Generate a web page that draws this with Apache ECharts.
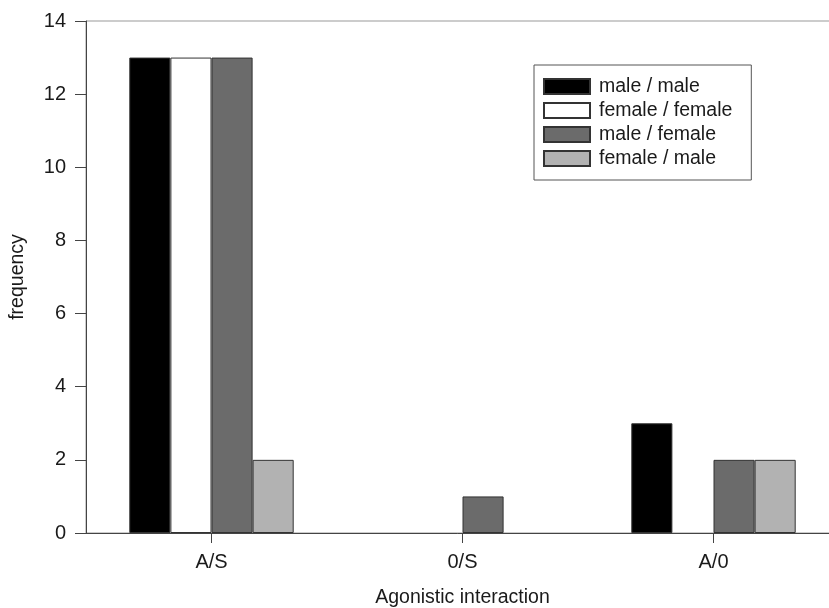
<!DOCTYPE html>
<html><head><meta charset="utf-8">
<script src="https://cdn.jsdelivr.net/npm/echarts@6/dist/echarts.min.js"></script>
<style>html,body{margin:0;padding:0;background:#fff}#c{width:829px;height:608px}</style>
</head><body><div id="c"></div>
<script>
const categories = ['A/S', '0/S', 'A/0'];
const seriesNames = ['male / male', 'female / female', 'male / female', 'female / male'];
const maleMale = [13, 0, 3];
const femaleFemale = [13, 0, 0];
const maleFemale = [13, 1, 2];
const femaleMale = [2, 0, 2];
const yTicks = [0, 2, 4, 6, 8, 10, 12, 14];
const colors = ['#000000', '#ffffff', '#6b6b6b', '#b2b2b2'];

const values = [maleMale, femaleFemale, maleFemale, femaleMale];
const font = 'Liberation Sans, Arial, sans-serif';
const chart = echarts.init(document.getElementById('c'), null, {renderer: 'canvas'});
chart.setOption({
  animation: false,
  backgroundColor: '#fff',
  grid: {left: 86, width: 753, top: 21, bottom: 75, outerBoundsMode: 'none', containLabel: false,
    show: true, borderColor: '#999', borderWidth: 1, backgroundColor: 'transparent'},
  legend: {
    orient: 'vertical', left: 534, top: 65,
    itemWidth: 46, itemHeight: 15, itemGap: 4,
    padding: [11.5, 19, 11.5, 9],
    borderColor: '#555', borderWidth: 1,
    textStyle: {fontFamily: font, fontSize: 19.5, lineHeight: 20, color: '#1a1a1a', padding: [0, 0, 0, 4]},
    data: seriesNames.map(n => ({name: n, icon: 'rect'}))
  },
  xAxis: {
    type: 'category', data: categories,
    name: 'Agonistic interaction', nameLocation: 'middle', nameGap: 55,
    nameTextStyle: {fontFamily: font, fontSize: 19.5, color: '#1a1a1a'},
    axisLine: {lineStyle: {color: '#444', width: 1}},
    axisTick: {show: true, alignWithLabel: true, length: 10, lineStyle: {color: '#444'}},
    axisLabel: {fontFamily: font, fontSize: 20, color: '#1a1a1a', margin: 19},
    splitLine: {show: false}
  },
  yAxis: {
    type: 'value', min: 0, max: 14, interval: 2,
    name: 'frequency', nameLocation: 'middle', nameGap: 58,
    nameTextStyle: {fontFamily: font, fontSize: 19.5, color: '#1a1a1a'},
    axisLine: {show: true, lineStyle: {color: '#444', width: 1}},
    axisTick: {show: true, length: 11, lineStyle: {color: '#444'}},
    axisLabel: {fontFamily: font, fontSize: 20, color: '#1a1a1a', margin: 20,
      formatter: v => yTicks.includes(v) ? String(v) : ''},
    splitLine: {show: false}
  },
  series: seriesNames.map((n, i) => ({
    name: n, type: 'bar',
    data: values[i].map(v => ({value: v, itemStyle: v === 0 ? {borderWidth: 0, opacity: 0} : {}})),
    barGap: '0%', barCategoryGap: '34.5%',
    itemStyle: {color: colors[i], borderColor: '#333', borderWidth: 1}
  }))
});
</script></body></html>
